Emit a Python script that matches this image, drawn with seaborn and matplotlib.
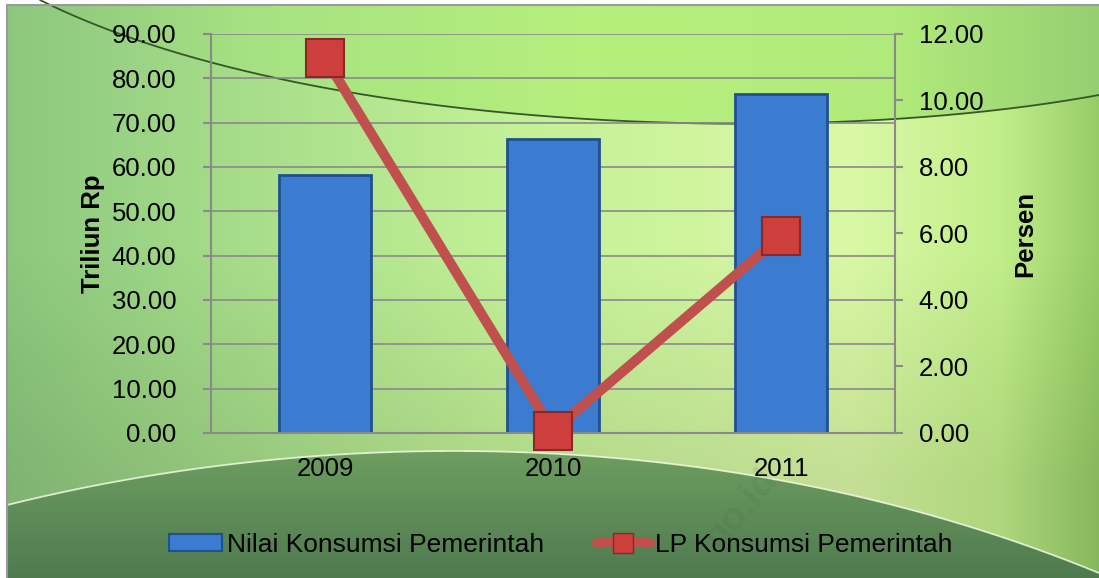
import numpy as np
import matplotlib
matplotlib.use("Agg")
import matplotlib.pyplot as plt
from matplotlib.patches import Patch
from matplotlib.lines import Line2D
from matplotlib.ticker import FormatStrFormatter
import seaborn as sns

# data
years = ["2009", "2010", "2011"]
nilai = [58.2, 66.3, 76.5]          # Nilai Konsumsi Pemerintah (Triliun Rp)
lp = [11.28, 0.06, 5.92]            # LP Konsumsi Pemerintah (Persen)
left_ticks = np.arange(0, 91, 10)
right_ticks = np.arange(0, 13, 2)

bar_color = "#3b7bd0"
bar_edge = "#21508f"
line_color = "#c0504d"
grid_color = "#8a8a8a"

sns.set_theme(style="white")
plt.rcParams["font.family"] = ["Liberation Sans", "DejaVu Sans"]

W, H = 1099, 578
fig = plt.figure(figsize=(W / 100, H / 100), dpi=100)
fig.patch.set_facecolor("white")


def hexrgb(h):
    h = h.lstrip("#")
    return np.array([int(h[i:i + 2], 16) / 255 for i in (0, 2, 4)])


def hgrad(stops, cols):
    xs = np.arange(W)
    arr = np.array([hexrgb(c) for c in cols])
    return np.stack([np.interp(xs, stops, arr[:, k]) for k in range(3)], axis=-1)


def bezier(p0, p1, p2, p3, n=500):
    t = np.linspace(0, 1, n)[:, None]
    pts = ((1 - t) ** 3) * np.array(p0) + 3 * ((1 - t) ** 2) * t * np.array(p1) \
        + 3 * (1 - t) * t ** 2 * np.array(p2) + t ** 3 * np.array(p3)
    return pts[:, 0], pts[:, 1]


# decorative background (pixel coordinates)
bg = fig.add_axes([0, 0, 1, 1])
bg.set_zorder(0)
bg.axis("off")
xs = np.arange(W)
tx, ty = bezier((40, 0), (300, 130), (800, 150), (1099, 95))
bx, by = bezier((7, 505), (350, 420), (750, 430), (1099, 573))
top_curve = np.interp(xs, tx, ty, left=-1)
bot_curve = np.interp(xs, bx, by)

mid = hgrad([0, 200, 500, 850, 1000, 1099],
            ["#8cc77e", "#a2da88", "#c2f096", "#daf8a6", "#c2ee8a", "#96cc66"])
top = hgrad([0, 250, 600, 900, 1099],
            ["#8cc27e", "#a6e282", "#b6f07c", "#b0ea7a", "#96cf72"])
Y = np.arange(H)[:, None]
fade = np.clip((Y - 250) / 230, 0, 1)[..., None]
img = mid[None, :, :] * (1 - 0.1 * fade) * np.ones((H, 1, 1))
top_mask = Y < top_curve[None, :]
img[top_mask] = (top[None, :, :] * np.ones((H, 1, 1)))[top_mask]
bot_v = np.clip((Y - 450) / 128, 0, 1)[..., None]
bot = (1 - bot_v) * hexrgb("#6e9e60") + bot_v * hexrgb("#4f7a50")
bot = bot * np.ones((1, W, 1))
bot_mask = Y > bot_curve[None, :]
img[bot_mask] = bot[bot_mask]
bg.imshow(img[5:, 7:], extent=(7, W, H, 5), aspect="auto", interpolation="bilinear")
bg.plot(tx, ty, color="#35572a", lw=1.3)
bg.plot(bx, by, color="#eef6e0", lw=1.3, alpha=0.85)
bg.plot([7, 7], [5, H], color="#9a9a9a", lw=1.5)
bg.plot([7, W], [5, 5], color="#9a9a9a", lw=1.5)
bg.set_xlim(0, W)
bg.set_ylim(H, 0)

# main chart
ax = fig.add_axes([0.192, 0.2509, 0.6224, 0.6903])
ax.set_zorder(1)
ax.patch.set_visible(False)
sns.barplot(x=years, y=nilai, ax=ax, color=bar_color, width=0.4, saturation=1,
            edgecolor=bar_edge, linewidth=2)
ax.set_ylim(0, 90)
ax.set_yticks(left_ticks)
ax.yaxis.set_major_formatter(FormatStrFormatter("%.2f"))
ax.grid(axis="y", color=grid_color, lw=1.2)
ax.grid(axis="x", visible=False)
ax.set_axisbelow(True)
for side in ["top", "right"]:
    ax.spines[side].set_visible(False)
for side in ["left", "bottom"]:
    ax.spines[side].set_color(grid_color)
    ax.spines[side].set_linewidth(1.5)
ax.tick_params(axis="y", length=6, width=1.5, color=grid_color, pad=19, labelsize=18.5,
               left=True, labelcolor="black")
ax.tick_params(axis="x", length=0, pad=17, labelsize=18.5, labelcolor="black")
ax.set_ylabel("Triliun Rp", fontsize=18.5, fontweight="bold", color="black")
ax.yaxis.label.set_va("center")
ax.yaxis.set_label_coords(-0.1725, 0.5)
ax.set_xlabel("")

ax2 = ax.twinx()
ax2.set_zorder(2)
ax2.patch.set_visible(False)
sns.pointplot(x=years, y=lp, ax=ax2, color=line_color, markers="s", errorbar=None)
for ln in ax2.lines:
    ln.set_linewidth(7.2)
    ln.set_color(line_color)
    ln.set_markersize(27)
    ln.set_markerfacecolor("#cc3f3c")
    ln.set_markeredgecolor("#8a2826")
    ln.set_markeredgewidth(1.5)
    ln.set_clip_on(False)
ax2.set_ylim(0, 12)
ax2.set_yticks(right_ticks)
ax2.yaxis.set_major_formatter(FormatStrFormatter("%.2f"))
ax2.grid(False)
for side in ["top", "left", "bottom"]:
    ax2.spines[side].set_visible(False)
ax2.spines["right"].set_color(grid_color)
ax2.spines["right"].set_linewidth(1.5)
ax2.tick_params(axis="y", length=6, width=1.5, color=grid_color, pad=11, labelsize=18.5,
                right=True, labelcolor="black")
ax2.set_ylabel("Persen", fontsize=18.5, fontweight="bold", color="black")
ax2.yaxis.label.set_va("center")
ax2.yaxis.set_label_coords(1.19, 0.5)
ax2.set_xlabel("")
ax.set_xlim(-0.5, 2.5)

# legend
handles = [
    Patch(facecolor=bar_color, edgecolor=bar_edge, linewidth=1.5),
    Line2D([], [], color=line_color, lw=7.2, marker="s", markersize=14,
           markerfacecolor="#cc3f3c", markeredgecolor="#8a2826"),
]
fig.legend(handles, ["Nilai Konsumsi Pemerintah", "LP Konsumsi Pemerintah"],
           loc="center", bbox_to_anchor=(0.51, 0.057), ncol=2, frameon=False,
           fontsize=19, handlelength=2.0, handletextpad=0.2, columnspacing=2.0,
           handleheight=0.6, labelcolor="black")

# faint watermark
fig.text(0.675, 0.12, "go.id", rotation=50, fontsize=28, fontweight="bold",
         color="#3f6a3f", alpha=0.12, ha="center", va="center")

fig.savefig("out.png", dpi=100)
